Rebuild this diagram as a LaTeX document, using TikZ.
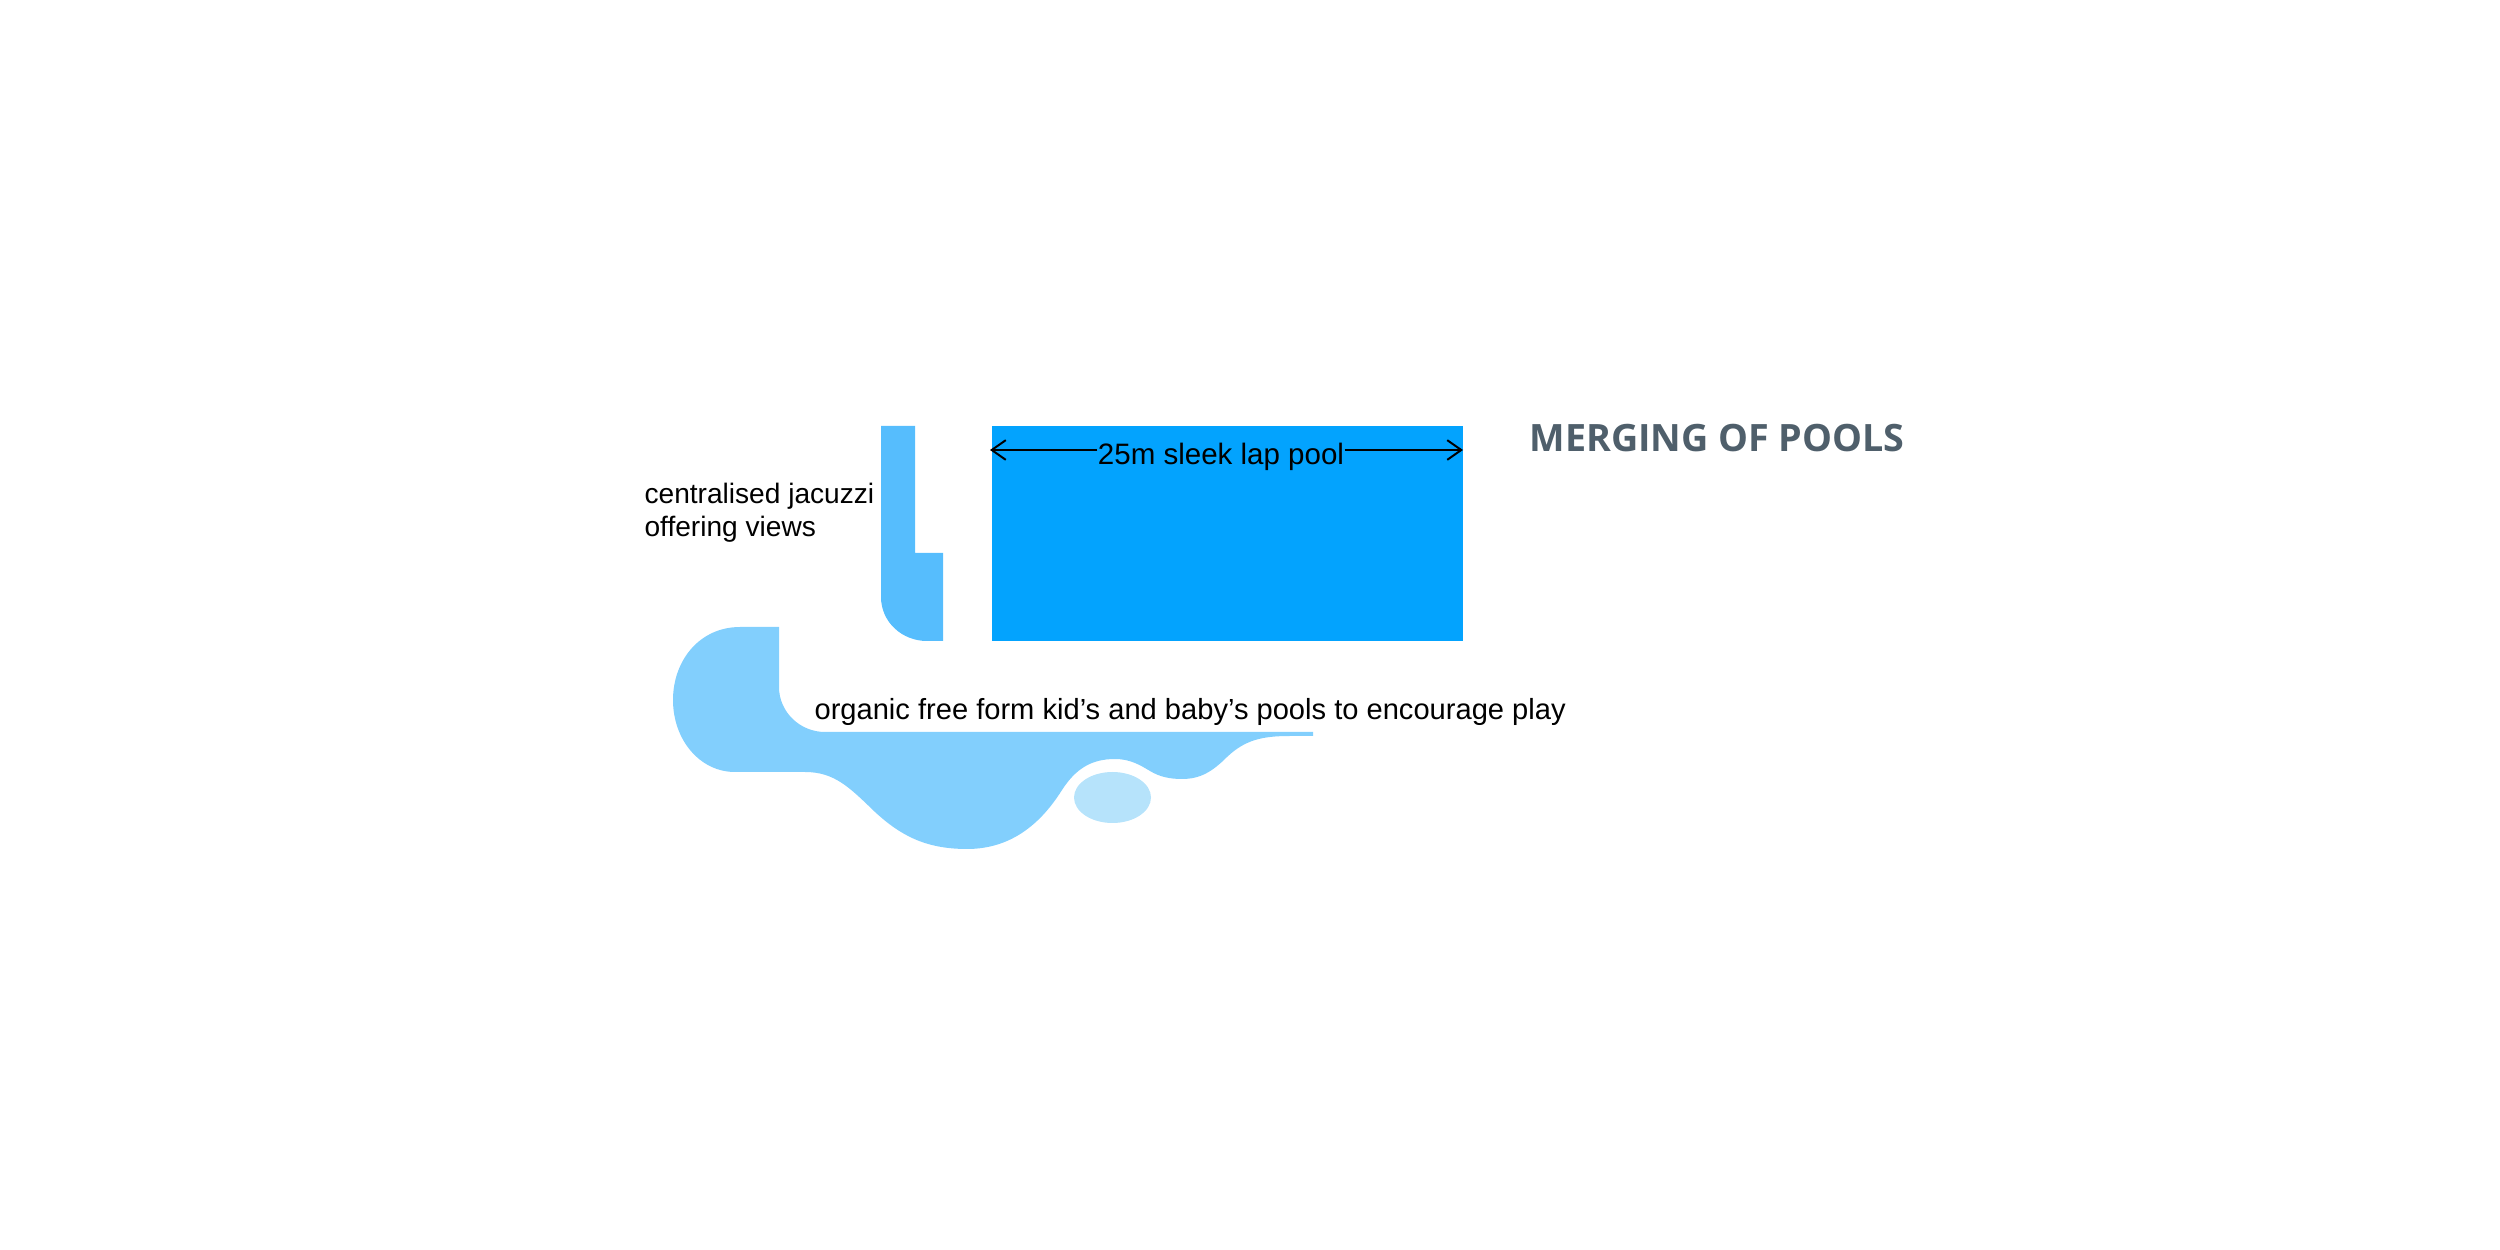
\documentclass[tikz,border=0pt]{standalone}
\usepackage{fontspec}
\setmainfont{Liberation Sans}
\newfontfamily\titlefont{Open Sans}
\usetikzlibrary{arrows.meta}

\definecolor{lapblue}{HTML}{03A3FE}
\definecolor{jacblue}{HTML}{56BDFD}
\definecolor{kidblue}{HTML}{82CFFD}
\definecolor{babyblue}{HTML}{B6E3FB}
\definecolor{titlegrey}{HTML}{4F5F6B}

\tikzset{
  notetext/.style={font=\fontsize{10}{11.8}\selectfont, inner sep=0pt, align=left},
  dimline/.style={line width=0.4pt, -{Straight Barb[length=5pt,width=7pt,line width=0.7pt]}},
  pool/.style={fill=#1, draw=none}
}

\begin{document}
\begin{tikzpicture}[x=0.125mm, y=-0.125mm]
        \useasboundingbox (0,0) rectangle (2500,1250);

        \fill[pool=jacblue] (881,426) -- (915,426) -- (915,553) -- (943,553) -- (943,641) -- (927,641)
          .. controls (902,641) and (881,622) .. (881,597) -- cycle;
        \fill[pool=lapblue] (992,426) rectangle (1463,641);

        \fill[pool=kidblue] (779,627) -- (779,687)
          .. controls (779,712) and (800,732) .. (825,732)
          -- (1313,732) -- (1313,736) -- (1290,736)
          .. controls (1262,736) and (1245,740) .. (1227,757)
          .. controls (1212,772) and (1200,779) .. (1182,779)
          .. controls (1170,779) and (1160,777) .. (1150,771)
          .. controls (1140,765) and (1130,759) .. (1115,759)
          .. controls (1090,759) and (1075,770) .. (1062,790)
          .. controls (1040,825) and (1010,849) .. (967,849)
          .. controls (925,849) and (900,835) .. (875,812)
          .. controls (850,788) and (835,772) .. (805,772)
          -- (735,772)
          .. controls (700,772) and (673,740) .. (673,700)
          .. controls (673,660) and (700,627) .. (740,627) -- cycle;
        \fill[pool=babyblue] (1112.5,797.5) ellipse [x radius=38.5, y radius=25.5];

        \coordinate (lapL) at (990,450);
        \coordinate (lapR) at (1463,450);
        \node[notetext, anchor=base, font=\fontsize{10.5}{12}\selectfont] (laptext) at (1221,465) {25m sleek lap pool};
        \draw[dimline] (laptext.west |- lapL) -- (lapL);
        \draw[dimline] (laptext.east |- lapR) -- (lapR);

        \node[notetext, anchor=base west] (jactext) at (644,537) {centralised jacuzzi\\offering views};
        \node[notetext, anchor=base west, font=\fontsize{10.35}{12}\selectfont] (kidtext) at (814,720) {organic free form kid’s and baby’s pools to encourage play};

        \node[anchor=base west, inner sep=0pt, text=titlegrey, font=\titlefont\bfseries\fontsize{13.4}{15}\selectfont] (title) at (1529,452) {MERGING OF POOLS};
\end{tikzpicture}
\end{document}
